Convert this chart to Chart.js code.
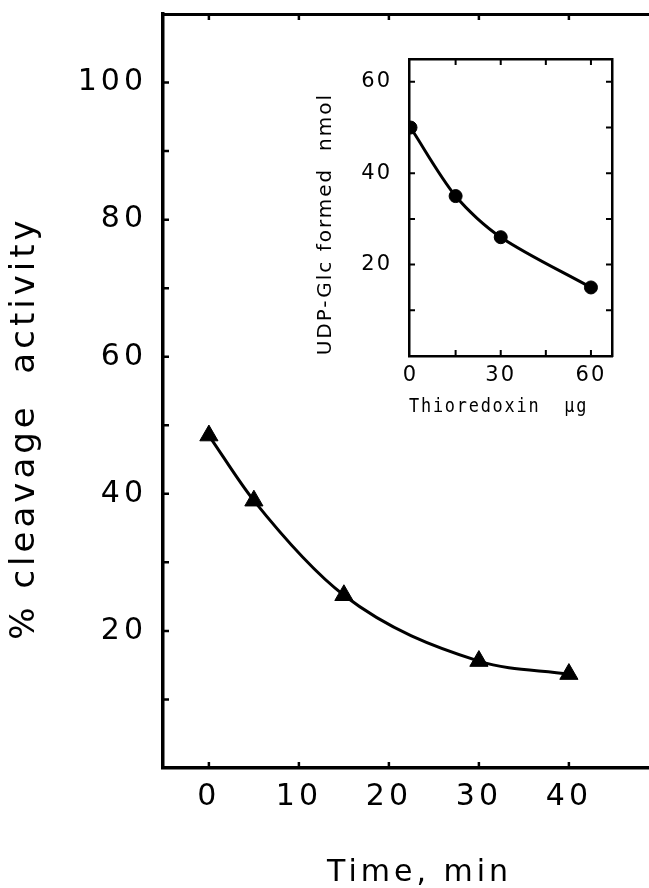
<!DOCTYPE html>
<html><head><meta charset="utf-8">
<script src="https://cdn.jsdelivr.net/npm/chart.js@4/dist/chart.umd.min.js"></script>
<style>
html,body{margin:0;padding:0;background:#fff;overflow:hidden;}
#wrap{position:relative;width:649px;height:888px;}
#main{position:absolute;left:0;top:0;}
#inset{position:absolute;left:300px;top:40px;}
</style></head><body>
<div id="wrap">
<canvas id="main" width="649" height="888"></canvas>
<canvas id="inset" width="340" height="400"></canvas>
</div>
<script>
// ---- main chart data ----
const timeMin = [0, 5, 15, 30, 40];
const cleavagePct = [48.5, 39, 25.2, 15.6, 13.7];
const mainXLabels = [0, 10, 20, 30, 40];
const mainYLabels = [20, 40, 60, 80, 100];
const mainYMarks = [10, 20, 30, 40, 50, 60, 70, 80, 90, 100];

// ---- inset data ----
const thioredoxinUg = [0, 15, 30, 60];
const udpGlcNmol = [50, 35, 26, 15];
const insetXLabels = [0, 30, 60];
const insetXMarks = [15, 30, 45, 60];
const insetYLabels = [20, 40, 60];
const insetYMarks = [10, 20, 30, 40, 50, 60];

const spacingPlugin = {
  id: 'spacing',
  beforeDraw(chart, args, opts) { chart.ctx.letterSpacing = opts.value || '0px'; }
};

// inward tick marks drawn from the library's scales
const inwardTicks = {
  id: 'inwardTicks',
  afterDraw(chart, args, o) {
    const ctx = chart.ctx, a = chart.chartArea;
    const xs = chart.scales.x, ys = chart.scales.y;
    ctx.save();
    ctx.letterSpacing = '0px';
    ctx.strokeStyle = '#000';
    ctx.lineWidth = o.width;
    ctx.beginPath();
    (o.xMarks || []).forEach(v => {
      const p = xs.getPixelForValue(v);
      if (o.bottom) { ctx.moveTo(p, a.bottom); ctx.lineTo(p, a.bottom - o.len); }
      if (o.top) { ctx.moveTo(p, a.top); ctx.lineTo(p, a.top + o.len); }
    });
    (o.yMarks || []).forEach(v => {
      const p = ys.getPixelForValue(v);
      if (o.left) { ctx.moveTo(a.left, p); ctx.lineTo(a.left + o.len, p); }
      if (o.right) { ctx.moveTo(a.right, p); ctx.lineTo(a.right - o.len, p); }
    });
    ctx.stroke();
    ctx.restore();
  }
};

const tickFont = (s) => ({ family: 'DejaVu Sans', size: s });
const noPad = s => { s.paddingTop = 0; s.paddingBottom = 0; s.paddingLeft = 0; s.paddingRight = 0; };

new Chart(document.getElementById('main'), {
  type: 'line',
  data: {
    datasets: [{
      data: timeMin.map((t, i) => ({ x: t, y: cleavagePct[i] })),
      borderColor: '#000',
      borderWidth: 3,
      cubicInterpolationMode: 'monotone',
      fill: false,
      pointStyle: 'triangle',
      pointRadius: 10.5,
      pointBackgroundColor: '#000',
      pointBorderColor: '#000',
      pointBorderWidth: 1
    }]
  },
  options: {
    responsive: false,
    animation: false,
    devicePixelRatio: 1,
    layout: { autoPadding: false, padding: { top: 14, left: 0, right: 0, bottom: 0 } },
    plugins: {
      legend: { display: false },
      tooltip: { enabled: false },
      spacing: { value: '4px' },
      inwardTicks: { xMarks: mainXLabels, yMarks: mainYMarks, len: 6, width: 2.5, bottom: true, top: true, left: true, right: false }
    },
    scales: {
      x: {
        type: 'linear', position: 'bottom', min: -5.1, max: 48.9,
        afterBuildTicks: s => { s.ticks = mainXLabels.map(v => ({ value: v })); },
        afterFit: s => { s.height = 120; noPad(s); },
        grid: { display: false, drawTicks: false },
        border: { display: true, color: '#000', width: 3.5 },
        ticks: { color: '#000', font: tickFont(30), padding: 11, maxRotation: 0, autoSkip: false },
        title: { display: true, text: '  Time, min', color: '#000', font: tickFont(30), padding: { top: 0, bottom: -3 } }
      },
      x2: {
        type: 'linear', position: 'top', min: -5.1, max: 48.9,
        afterFit: s => { s.height = 0; noPad(s); },
        grid: { display: false, drawTicks: false },
        border: { display: true, color: '#000', width: 3 },
        ticks: { display: false }
      },
      y: {
        type: 'linear', position: 'left', min: 0, max: 110,
        afterBuildTicks: s => { s.ticks = mainYLabels.map(v => ({ value: v })); },
        afterFit: s => { s.width = 163; noPad(s); },
        grid: { display: false, drawTicks: false },
        border: { display: true, color: '#000', width: 3.5 },
        ticks: { color: '#000', font: tickFont(30), padding: 16 },
        title: { display: true, text: '% cleavage  activity     ', color: '#000', font: tickFont(34), padding: { top: 5, bottom: 0 } }
      }
    }
  },
  plugins: [spacingPlugin, inwardTicks]
});

new Chart(document.getElementById('inset'), {
  type: 'line',
  data: {
    datasets: [{
      data: thioredoxinUg.map((t, i) => ({ x: t, y: udpGlcNmol[i] })),
      borderColor: '#000',
      borderWidth: 3,
      tension: 0.3,
      fill: false,
      pointStyle: 'circle',
      pointRadius: 6.5,
      pointBackgroundColor: '#000',
      pointBorderColor: '#000',
      pointBorderWidth: 1
    }]
  },
  options: {
    responsive: false,
    animation: false,
    devicePixelRatio: 1,
    layout: { autoPadding: false, padding: { top: 19, left: 0, right: 28, bottom: 0 } },
    plugins: {
      legend: { display: false },
      tooltip: { enabled: false },
      spacing: { value: '2px' },
      inwardTicks: { xMarks: insetXMarks, yMarks: insetYMarks, len: 6, width: 2, bottom: true, top: true, left: true, right: true }
    },
    scales: {
      x: {
        type: 'linear', position: 'bottom', min: -0.5, max: 67,
        afterBuildTicks: s => { s.ticks = insetXLabels.map(v => ({ value: v })); },
        afterFit: s => { s.height = 84; noPad(s); },
        grid: { display: false, drawTicks: false },
        border: { display: true, color: '#000', width: 2.5 },
        ticks: { color: '#000', font: tickFont(21), padding: 7, maxRotation: 0, autoSkip: false },
        title: { display: true, text: 'Thioredoxin  \u00b5g  ', color: '#000', font: { family: 'DejaVu Sans Mono', size: 19 }, padding: { top: 0, bottom: 22 } }
      },
      x2: {
        type: 'linear', position: 'top', min: -0.5, max: 67,
        afterFit: s => { s.height = 0; noPad(s); },
        grid: { display: false, drawTicks: false },
        border: { display: true, color: '#000', width: 2.5 },
        ticks: { display: false }
      },
      y: {
        type: 'linear', position: 'left', min: 0, max: 65,
        afterBuildTicks: s => { s.ticks = insetYLabels.map(v => ({ value: v })); },
        afterFit: s => { s.width = 109; noPad(s); },
        grid: { display: false, drawTicks: false },
        border: { display: true, color: '#000', width: 2.5 },
        ticks: { color: '#000', font: tickFont(21), padding: 17 },
        title: { display: true, text: 'UDP-Glc formed  nmol    ', color: '#000', font: tickFont(20), padding: { top: 14, bottom: 0 } }
      },
      y2: {
        type: 'linear', position: 'right', min: 0, max: 65,
        afterFit: s => { s.width = 0; noPad(s); },
        grid: { display: false, drawTicks: false },
        border: { display: true, color: '#000', width: 2.5 },
        ticks: { display: false }
      }
    }
  },
  plugins: [spacingPlugin, inwardTicks]
});
</script>
</body></html>
